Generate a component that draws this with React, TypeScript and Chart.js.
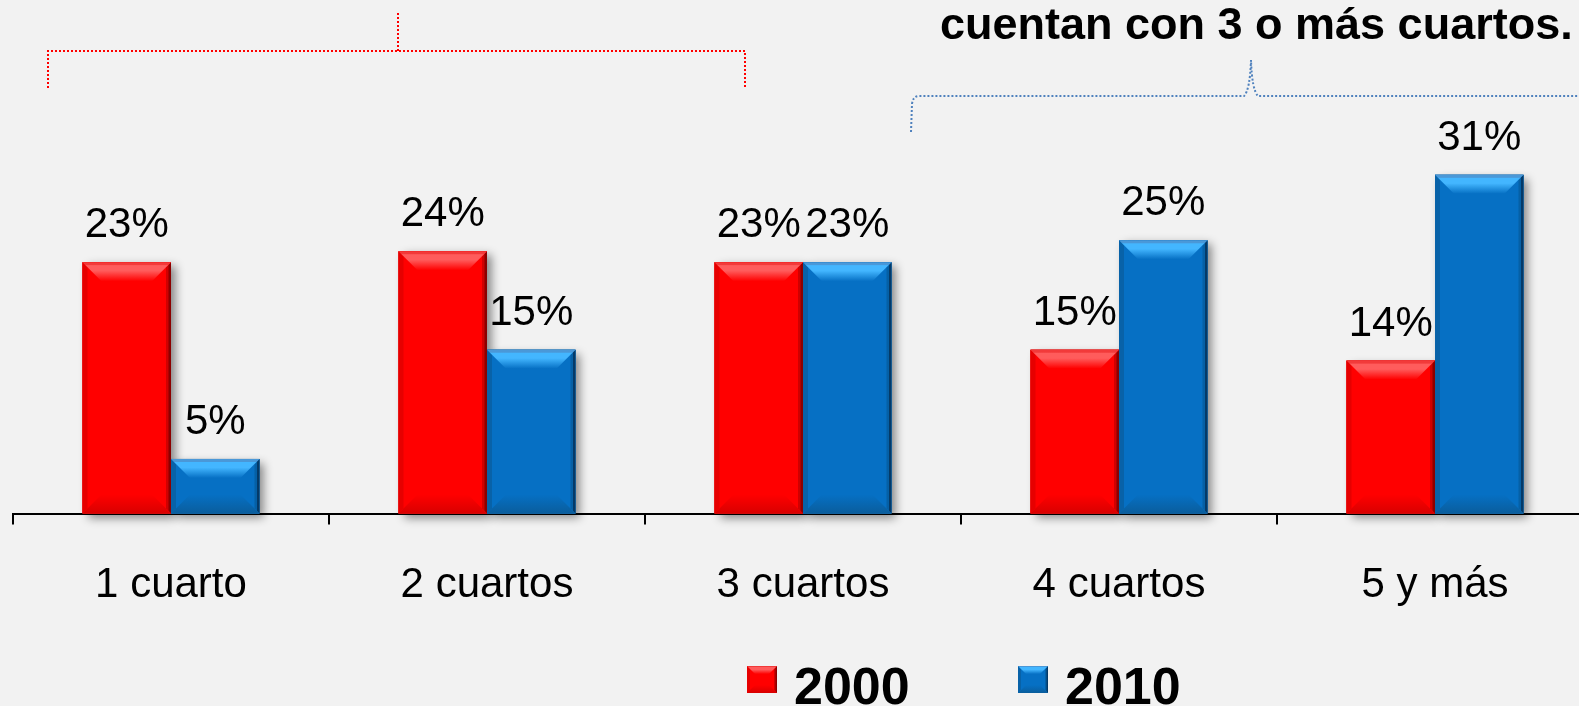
import React, { useEffect, useRef } from "react";
import { Chart, registerables } from "chart.js";

Chart.register(...registerables);

const categories = ["1 cuarto", "2 cuartos", "3 cuartos", "4 cuartos", "5 y más"];
const series2000 = [23, 24, 23, 15, 14];
const series2010 = [5, 15, 23, 25, 31];
const seriesLabels = ["2000", "2010"];
const headline = "cuentan con 3 o más cuartos.";

const FONT = "'Liberation Sans', Arial, Helvetica, sans-serif";

type Pal = {
  main: string; topEdge: string; light: string; left: string;
  rightMid: string; rightDark: string; bottom: string;
};

const RED: Pal = {
  main: "#ff0000", topEdge: "#f23a3a", light: "#ff5c5c", left: "#e60000",
  rightMid: "#d00000", rightDark: "#8c0000", bottom: "#d80000",
};
const BLUE: Pal = {
  main: "#0670c4", topEdge: "#4a98d8", light: "#43b6ff", left: "#0862a8",
  rightMid: "#0560a6", rightDark: "#043a68", bottom: "#0a5d9c",
};
const PALS = [RED, BLUE];

function bevelRect(ctx: CanvasRenderingContext2D, x0: number, y0: number, x1: number, y1: number, pal: Pal, b: number, side: number) {
  const w = x1 - x0;
  const h = y1 - y0;
  if (w <= 0 || h <= 0) return;
  const bb = Math.min(b, h / 2, w / 2);
  const sd = Math.min(side, h / 2, w / 2);
  ctx.save();
  ctx.fillStyle = pal.main;
  ctx.fillRect(x0, y0, w, h);
  ctx.fillStyle = pal.left;
  ctx.beginPath();
  ctx.moveTo(x0, y0); ctx.lineTo(x0 + sd, y0 + sd); ctx.lineTo(x0 + sd, y1 - sd); ctx.lineTo(x0, y1);
  ctx.closePath(); ctx.fill();
  const gr = ctx.createLinearGradient(x1 - sd, 0, x1, 0);
  gr.addColorStop(0, pal.rightMid);
  gr.addColorStop(0.45, pal.rightMid);
  gr.addColorStop(0.55, pal.rightDark);
  gr.addColorStop(1, pal.rightDark);
  ctx.fillStyle = gr;
  ctx.beginPath();
  ctx.moveTo(x1, y0); ctx.lineTo(x1, y1); ctx.lineTo(x1 - sd, y1 - sd); ctx.lineTo(x1 - sd, y0 + sd);
  ctx.closePath(); ctx.fill();
  const gb = ctx.createLinearGradient(0, y1 - bb, 0, y1);
  gb.addColorStop(0, pal.main);
  gb.addColorStop(1, pal.bottom);
  ctx.fillStyle = gb;
  ctx.beginPath();
  ctx.moveTo(x0, y1); ctx.lineTo(x1, y1); ctx.lineTo(x1 - bb, y1 - bb); ctx.lineTo(x0 + bb, y1 - bb);
  ctx.closePath(); ctx.fill();
  const gt = ctx.createLinearGradient(0, y0, 0, y0 + bb);
  gt.addColorStop(0, pal.topEdge);
  gt.addColorStop(0.14, pal.topEdge);
  gt.addColorStop(0.18, pal.light);
  gt.addColorStop(0.45, pal.light);
  gt.addColorStop(1, pal.main);
  ctx.fillStyle = gt;
  ctx.beginPath();
  ctx.moveTo(x0, y0); ctx.lineTo(x1, y0); ctx.lineTo(x1 - bb, y0 + bb); ctx.lineTo(x0 + bb, y0 + bb);
  ctx.closePath(); ctx.fill();
  ctx.restore();
}

const barStylePlugin = {
  id: "barStyle",
  beforeDatasetsDraw(chart: any) {
    const ctx: CanvasRenderingContext2D = chart.ctx;
    ctx.save();
    ctx.shadowColor = "rgba(0,0,0,0.45)";
    ctx.shadowBlur = 9;
    ctx.shadowOffsetX = 5;
    ctx.shadowOffsetY = 4;
    ctx.fillStyle = "#777";
    chart.data.datasets.forEach((_ds: any, i: number) => {
      chart.getDatasetMeta(i).data.forEach((bar: any) => {
        const p = bar.getProps(["x", "y", "base", "width"], true);
        ctx.fillRect(p.x - p.width / 2, p.y, p.width, p.base - p.y);
      });
    });
    ctx.restore();
  },
  afterDatasetsDraw(chart: any) {
    const ctx: CanvasRenderingContext2D = chart.ctx;
    chart.data.datasets.forEach((ds: any, i: number) => {
      chart.getDatasetMeta(i).data.forEach((bar: any, j: number) => {
        const p = bar.getProps(["x", "y", "base", "width"], true);
        bevelRect(ctx, p.x - p.width / 2, p.y, p.x + p.width / 2, p.base, PALS[i], 19, 5);
        ctx.save();
        ctx.fillStyle = "#000";
        ctx.font = `42px ${FONT}`;
        ctx.textAlign = "center";
        ctx.textBaseline = "alphabetic";
        ctx.fillText(`${ds.data[j]}%`, p.x, p.y - 25);
        ctx.restore();
      });
    });
  },
  afterDraw(chart: any) {
    const ctx: CanvasRenderingContext2D = chart.ctx;
    ctx.save();
    ctx.fillStyle = "#000";
    ctx.font = `bold 45px ${FONT}`;
    ctx.textAlign = "left";
    ctx.textBaseline = "alphabetic";
    ctx.fillText(headline, 940, 39);

    ctx.strokeStyle = "#ff0000";
    ctx.lineWidth = 2;
    ctx.setLineDash([2, 2]);
    ctx.beginPath();
    ctx.moveTo(48, 88); ctx.lineTo(48, 51); ctx.lineTo(745, 51); ctx.lineTo(745, 88);
    ctx.moveTo(398, 51); ctx.lineTo(398, 13);
    ctx.stroke();

    ctx.strokeStyle = "#4f81bd";
    ctx.lineWidth = 2;
    ctx.setLineDash([2, 2]);
    ctx.beginPath();
    ctx.moveTo(911, 132);
    ctx.lineTo(912, 104);
    ctx.quadraticCurveTo(913, 96, 919, 96);
    ctx.lineTo(1244, 96);
    ctx.quadraticCurveTo(1250, 90, 1251, 60);
    ctx.quadraticCurveTo(1252, 90, 1258, 96);
    ctx.lineTo(1600, 96);
    ctx.stroke();
    ctx.setLineDash([]);

    const items = [
      { box: 747, text: 794 },
      { box: 1018, text: 1065 },
    ];
    chart.data.datasets.forEach((ds: any, i: number) => {
      const it = items[i];
      bevelRect(ctx, it.box, 666, it.box + 30, 693, PALS[i], 8, 3);
      ctx.fillStyle = "#000";
      ctx.font = `bold 52px ${FONT}`;
      ctx.textAlign = "left";
      ctx.fillText(ds.label, it.text, 704);
    });
    ctx.restore();
  },
};

export default function App() {
  const ref = useRef<HTMLCanvasElement | null>(null);

  useEffect(() => {
    if (!ref.current) return;
    const chart = new Chart(ref.current, {
      type: "bar",
      data: {
        labels: categories,
        datasets: [
          { label: seriesLabels[0], data: series2000, backgroundColor: RED.main, borderWidth: 0 },
          { label: seriesLabels[1], data: series2010, backgroundColor: BLUE.main, borderWidth: 0 },
        ],
      },
      options: {
        responsive: false,
        animation: false,
        devicePixelRatio: 1,
        layout: { padding: { left: 13, right: 7, top: 131, bottom: 59 } },
        datasets: { bar: { categoryPercentage: 0.56, barPercentage: 1 } },
        plugins: {
          legend: { display: false },
          tooltip: { enabled: false },
          title: { display: false },
        },
        scales: {
          x: {
            z: 1,
            grid: {
              display: true,
              drawOnChartArea: false,
              drawTicks: true,
              tickLength: 11,
              color: "#000",
              lineWidth: 2,
              offset: true,
            },
            border: { display: true, color: "#000", width: 2 },
            ticks: {
              color: "#000",
              font: { size: 42, family: FONT },
              padding: 36,
              maxRotation: 0,
              autoSkip: false,
            },
          },
          y: {
            display: false,
            min: 0,
            max: 35,
          },
        },
      },
      plugins: [barStylePlugin],
    });
    return () => chart.destroy();
  }, []);

  return (
    <div
      style={{
        position: "fixed",
        left: 0,
        top: 0,
        width: 1579,
        height: 706,
        overflow: "hidden",
        background: "#f2f2f2",
      }}
    >
      <canvas ref={ref} width={1600} height={706} style={{ display: "block" }} />
    </div>
  );
}
